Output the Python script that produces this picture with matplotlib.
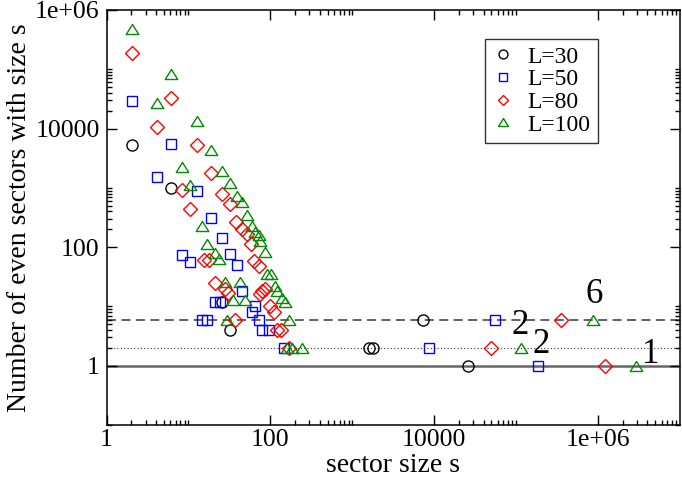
import numpy as np
import matplotlib
matplotlib.use("Agg")
import matplotlib.pyplot as plt
from matplotlib.ticker import FixedLocator, NullFormatter

# ---- data ----
L30_x = [2.03, 6.16, 25.7, 32.5, 1600, 1810, 7330, 25600]
L30_y = [5290, 996, 12, 4, 2, 2, 6, 1]

L50_x = [2.03, 4.12, 6.16, 8.3, 10.5, 12.7, 14.6, 16.8, 19.0, 21.3, 24.5, 25.7,
         32.5, 39.4, 45.2, 59.8, 65.7, 72.1, 79.4, 95.6, 146, 8540, 55300, 184000]
L50_y = [29200, 1550, 5580, 74, 55.6, 893, 6, 6, 316, 12, 12, 143,
         78, 50, 18, 8, 10, 6, 4, 4, 2, 2, 6, 1]

L80_x = [2.03, 4.12, 6.16, 8.4, 10.5, 12.7, 15.3, 17.6, 19.0, 21.3, 25.7, 28.2,
         30.6, 32.5, 36.6, 38.4, 45.2, 52, 58, 63.9, 72.1, 75.7, 79.4, 87,
         98.3, 110, 121, 133, 168, 49400, 356000, 1.2e6]
L80_y = [1.91e5, 1.08e4, 3.33e4, 912, 436, 5230, 61, 61, 1760, 25, 795, 20,
         17, 540, 6, 268, 206, 165, 112, 58, 49, 16, 18, 20,
         10, 8, 4, 4, 2, 2, 6, 1]

L100_x = [2.03, 4.12, 6.16, 8.4, 10.5, 12.7, 14.8, 16.8, 19.0, 21.3, 23.4, 25.7,
          27.8, 29.6, 32.5, 35.3, 39, 43, 45.2, 49.6, 52, 59, 65.7, 72.1,
          75.7, 85.9, 91.4, 103, 115, 121, 139, 153, 168, 161, 185, 245,
          115000, 869000, 2.94e6]
L100_y = [4.73e5, 2.67e4, 8.24e4, 2270, 1130, 1.33e4, 225, 112, 4300, 79, 64, 1905,
          26, 6, 1200, 13, 721, 26, 583, 13, 345, 225, 182, 162,
          127, 83, 35, 35, 22, 18, 14, 12, 6, 2, 2, 2,
          2, 6, 1]

flat_tri = [(0, 0.8), (-1, -0.8), (1, -0.8), (0, 0.8)]

series = [("L=30", L30_x, L30_y, "o", "black", 8.0),
          ("L=50", L50_x, L50_y, "s", "#0000ff", 7.2),
          ("L=80", L80_x, L80_y, "D", "#ff0000", 6.9),
          ("L=100", L100_x, L100_y, flat_tri, "#008b00", 9.0)]

ref_levels = [6, 2, 1]
annot_text = ["6", "2", "2", "1"]
annot_x = [9.06e5, 1.13e5, 2.03e5, 4.4e6]
annot_y = [16.0, 4.77, 2.27, 1.53]

plt.rcParams['font.family'] = ['Liberation Serif', 'DejaVu Serif']

fig = plt.figure(figsize=(6.82, 4.79), dpi=100)
ax = fig.add_axes([106.5/682, 1-425/479, (680-106.5)/682, (425-10)/479])

ax.set_xscale('log')
ax.set_yscale('log')
ax.set_xlim(1, 1e7)
ax.set_ylim(0.1, 1e6)

# reference lines
ax.axhline(ref_levels[0], color='#555555', lw=1.3, ls=(0, (5, 3)), zorder=1)
ax.axhline(ref_levels[1], color='#333333', lw=0.8, ls=(0, (1, 2)), zorder=1)
ax.axhline(ref_levels[2], color='#666666', lw=1.8, ls='-', zorder=1)

for lab, xs, ys, mk, col, ms in series:
    ax.plot(xs, ys, ls='none', marker=mk, mfc='none', mec=col, ms=ms,
            mew=1.0, label=lab, zorder=3)

for t, xx, yy in zip(annot_text, annot_x, annot_y):
    ax.text(xx, yy, t, fontsize=25, ha='center', va='center')

# ticks in xmgrace style
maj = [1, 100, 1e4, 1e6]
minors = [k * 10.0**(2*n) for n in range(-1, 4) for k in range(2, 11)]
ax.xaxis.set_major_locator(FixedLocator(maj))
ax.xaxis.set_minor_locator(FixedLocator([m for m in minors if 1 < m < 1e7]))
ax.yaxis.set_major_locator(FixedLocator([1, 100, 1e4, 1e6]))
ax.yaxis.set_minor_locator(FixedLocator([m for m in minors if 0.1 <= m < 1e6]))
ax.xaxis.set_minor_formatter(NullFormatter())
ax.yaxis.set_minor_formatter(NullFormatter())
ax.set_xticklabels(["1", "100", "10000", "1e+06"])
ax.set_yticklabels(["1", "100", "10000", "1e+06"])
ax.tick_params(which='both', direction='in', top=True, right=True,
               labelsize=18.5, width=1.0)
ax.tick_params(axis='x', which='major', length=7, pad=3)
ax.tick_params(axis='y', which='major', length=7, pad=5)
ax.tick_params(which='minor', length=3.5)
for s in ax.spines.values():
    s.set_linewidth(1.1)

ax.set_xlabel("sector size s", fontsize=20, labelpad=1)
ax.set_ylabel("Number of even sectors with size s", fontsize=20, labelpad=2)

leg = ax.legend(loc='upper left', bbox_to_anchor=(485/682, 1-39/479),
                bbox_transform=fig.transFigure, borderaxespad=0,
                fontsize=17, frameon=True, fancybox=False, shadow=False,
                markerscale=0.8, handlelength=0.9, handletextpad=0.6,
                labelspacing=0.05, borderpad=0.3)
leg.get_frame().set_edgecolor('black')
leg.get_frame().set_linewidth(1.0)

fig.savefig("out.png", dpi=100)
